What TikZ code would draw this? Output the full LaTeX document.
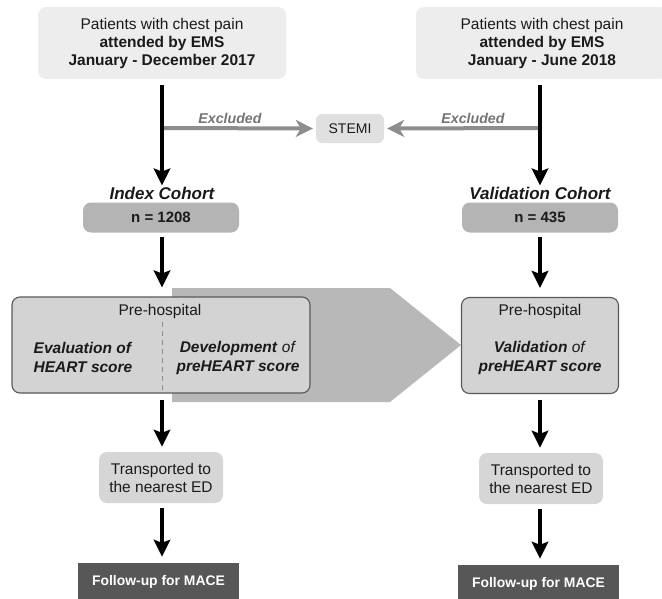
\documentclass[tikz,border=0pt]{standalone}
\usepackage{fontspec}
\setmainfont{Liberation Sans}
\usetikzlibrary{arrows.meta}
\definecolor{topfill}{HTML}{EDEDED}
\definecolor{stemifill}{HTML}{E0E0E0}
\definecolor{nfill}{HTML}{B4B4B4}
\definecolor{prefill}{HTML}{D3D3D3}
\definecolor{preborder}{HTML}{585858}
\definecolor{chevfill}{HTML}{B8B8B8}
\definecolor{transfill}{HTML}{D6D6D6}
\definecolor{followfill}{HTML}{575757}
\definecolor{grayline}{HTML}{8D8D8D}
\definecolor{exltext}{HTML}{747474}
\definecolor{txt}{HTML}{1A1A1A}
\begin{document}
\begin{tikzpicture}[x=1pt,y=-1pt,
  every node/.style={text=txt},
  box/.style={rounded corners=8pt, inner sep=0pt, align=center,
    font=\fontsize{15.5}{18}\selectfont},
  topbox/.style={box, fill=topfill, minimum width=248pt, minimum height=72pt},
  nbox/.style={box, fill=nfill, minimum width=156pt, minimum height=30pt,
    font=\fontsize{15}{18}\selectfont\bfseries},
  prebox/.style={box, fill=prefill, draw=preborder, line width=1.1pt, minimum height=96pt},
  transbox/.style={box, fill=transfill, minimum width=124pt, minimum height=51pt},
  followbox/.style={inner sep=0pt, fill=followfill, minimum width=161pt, minimum height=46pt},
  followtext/.style={inner sep=0pt, text=white, font=\fontsize{13.9}{16}\selectfont\bfseries},
  cohort/.style={inner sep=0pt, font=\fontsize{17}{20}\selectfont\bfseries\itshape},
  intext/.style={inner sep=0pt, align=center, font=\fontsize{15.5}{19}\selectfont},
  exlabel/.style={inner sep=0pt, text=exltext, font=\fontsize{14.2}{16}\selectfont\bfseries\itshape},
  flow/.style={line width=4.3pt, draw=black,
    -{Stealth[length=17pt, width=16.5pt, inset=3pt]}},
  exarrow/.style={line width=4pt, draw=grayline,
    -{Stealth[length=17pt, width=17pt, inset=5pt]}}
]
\useasboundingbox (0,0) rectangle (662,598);

% chevron behind the left pre-hospital box
\fill[chevfill] (172,288) -- (390,288) -- (461,345) -- (390,402) -- (172,402) -- cycle;

% top boxes
\node[topbox] (topL) at (162,43) {Patients with chest pain\\\textbf{attended by EMS}\\\textbf{January - December 2017}};
\node[topbox, minimum width=252pt] (topR) at (542,43) {Patients with chest pain\\\textbf{attended by EMS}\\\textbf{January - June 2018}};

% STEMI
\node[box, fill=stemifill, minimum width=68pt, minimum height=29pt, rounded corners=6pt,
  font=\fontsize{14}{16}\selectfont] (stemi) at (350,128.5) {STEMI};

% cohort labels and n boxes
\node[cohort] (idxlab) at (162,193.5) {Index Cohort};
\node[cohort] (vallab) at (540,193.5) {Validation Cohort};
\node[nbox] (nL) at (161,217.5) {n = 1208};
\node[nbox] (nR) at (540,217.5) {n = 435};

% pre-hospital boxes
\node[prebox, minimum width=298pt] (preL) at (161,345) {};
\node[prebox, minimum width=157pt] (preR) at (540,345.5) {};
\node[intext] (preLt) at (160,311) {Pre-hospital};
\node[intext] (preRt) at (540,311) {Pre-hospital};
\node[intext] (evalt) at (83,357.5) {\textbf{\textit{Evaluation of}}\\\textbf{\textit{HEART score}}};
\node[intext] (devt) at (238,357.5) {\textbf{\textit{Development}} \textit{of}\\\textbf{\textit{preHEART score}}};
\node[intext] (valt) at (540,357.5) {\textbf{\textit{Validation}} \textit{of}\\\textbf{\textit{preHEART score}}};
\draw[grayline, line width=1pt, dash pattern=on 5pt off 4pt] (162,322) -- (162,393);

% transported boxes
\node[transbox] (trL) at (161,477.5) {Transported to\\the nearest ED};
\node[transbox] (trR) at (541,478.5) {Transported to\\the nearest ED};

% follow-up boxes
\node[followbox] (fuL) at (158.5,586) {};
\node[followbox] (fuR) at (538.5,588) {};
\node[followtext] (fuLt) at (158.5,582) {Follow-up for MACE};
\node[followtext] (fuRt) at (538.5,584) {Follow-up for MACE};

% exclusion arrows
\coordinate (exL) at (162,128);
\coordinate (exR) at (540,128);
\draw[exarrow, shorten >=3pt] (exL) -- (stemi.west);
\draw[exarrow, shorten >=3pt] (exR) -- (stemi.east);
\node[exlabel] (exLlab) at (230,118) {Excluded};
\node[exlabel] (exRlab) at (473,118) {Excluded};

% main flow arrows
\draw[flow, shorten <=6pt, shorten >=1.5pt] (topL.south) -- (idxlab.north);
\draw[flow, shorten <=6pt, shorten >=1.5pt] (topR.south -| vallab.north) -- (vallab.north);
\draw[flow, shorten <=4pt, shorten >=9pt] (nL.south -| idxlab.south) -- (idxlab.south |- preL.north);
\draw[flow, shorten <=4pt, shorten >=9pt] (nR.south) -- (preR.north);
\draw[flow, shorten <=6pt, shorten >=5pt] (preL.south -| idxlab.south) -- (idxlab.south |- trL.north);
\draw[flow, shorten <=6pt, shorten >=5pt] (preR.south) -- (trR.north -| preR.south);
\draw[flow, shorten <=5pt, shorten >=6pt] (trL.south -| idxlab.south) -- (idxlab.south |- fuL.north);
\draw[flow, shorten <=5pt, shorten >=6pt] (trR.south -| preR.south) -- (preR.south |- fuR.north);
\end{tikzpicture}
\end{document}
